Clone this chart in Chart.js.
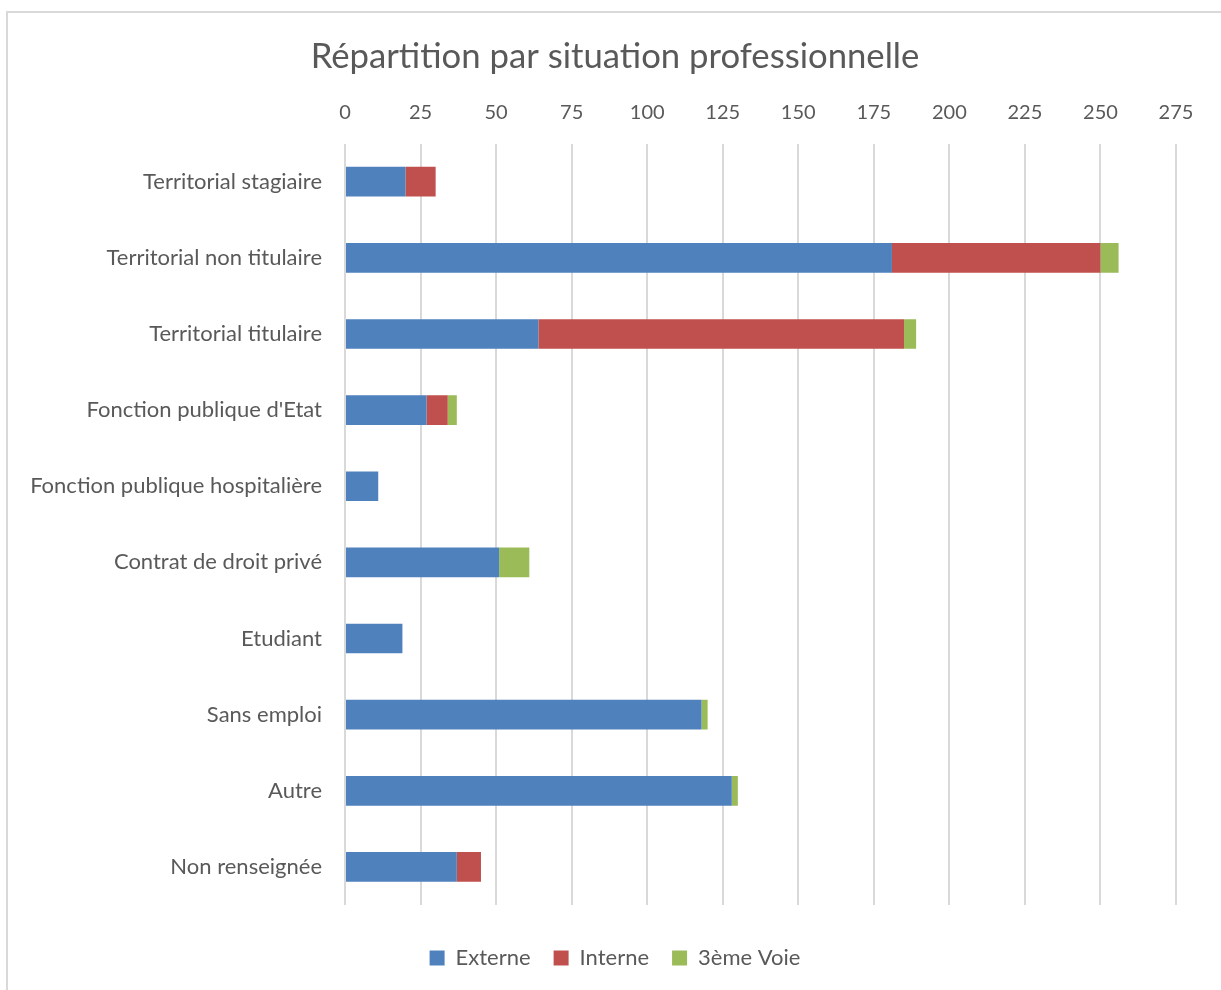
<!DOCTYPE html>
<html>
<head>
<meta charset="utf-8">
<script src="https://cdn.jsdelivr.net/npm/chart.js@4"></script>
<style>
  html, body { margin: 0; padding: 0; background: #ffffff; }
  #wrap { position: relative; width: 1221px; height: 990px; overflow: hidden; }
  #frame { position: absolute; left: 6px; top: 11px; width: 1300px; height: 1100px; border-top: 2px solid #d9d9d9; border-left: 2px solid #d9d9d9; box-sizing: border-box; pointer-events: none; }
  #c { position: absolute; left: 0; top: 0; }
</style>
</head>
<body>
<div id="wrap">
  <canvas id="c" width="1221" height="990"></canvas>
  <div id="frame"></div>
</div>
<script>
const categories = [
  "Territorial stagiaire",
  "Territorial non titulaire",
  "Territorial titulaire",
  "Fonction publique d'Etat",
  "Fonction publique hospitalière",
  "Contrat de droit privé",
  "Etudiant",
  "Sans emploi",
  "Autre",
  "Non renseignée"
];
const externe   = [20, 181, 64, 27, 11, 51, 19, 118, 128, 37];
const interne   = [10, 69, 121, 7, 0, 0, 0, 0, 0, 8];
const troisieme = [0, 6, 4, 3, 0, 10, 0, 2, 2, 0];
const seriesNames = ["Externe", "Interne", "3ème Voie"];
const xTicks = [0, 25, 50, 75, 100, 125, 150, 175, 200, 225, 250, 275];

const FONT = "Lato, 'Open Sans', 'DejaVu Sans', sans-serif";
const TXT = "#595959";
Chart.defaults.font.family = FONT;
Chart.defaults.color = TXT;

const ctx = document.getElementById('c').getContext('2d');
new Chart(ctx, {
  type: 'bar',
  data: {
    labels: categories,
    datasets: [
      { label: seriesNames[0], data: externe, backgroundColor: '#4F81BD' },
      { label: seriesNames[1], data: interne, backgroundColor: '#C0504D' },
      { label: seriesNames[2], data: troisieme, backgroundColor: '#9BBB59' }
    ]
  },
  options: {
    indexAxis: 'y',
    responsive: false,
    animation: false,
    devicePixelRatio: 1,
    layout: { padding: { left: 9, right: 0, top: 0, bottom: 11 } },
    datasets: { bar: { categoryPercentage: 1, barPercentage: 0.39, borderWidth: 0 } },
    scales: {
      x: {
        position: 'top',
        stacked: true,
        min: 0,
        max: 275,
        afterBuildTicks: (s) => { s.ticks = xTicks.map(v => ({ value: v })); },
        ticks: { font: { size: 20 }, color: TXT, padding: 19 },
        grid: { color: '#d9d9d9', lineWidth: 2, drawTicks: false },
        border: { display: false },
        afterFit: (s) => { s.height = 44; }
      },
      y: {
        stacked: true,
        ticks: { font: { size: 22 }, color: TXT, padding: 23 },
        grid: { display: false, drawTicks: false },
        border: { display: false },
        afterFit: (s) => { s.width = 336; }
      },
      yRight: {
        type: 'category',
        position: 'right',
        display: true,
        ticks: { display: false },
        grid: { display: false, drawTicks: false },
        border: { display: false },
        afterFit: (s) => { s.width = 45; }
      }
    },
    plugins: {
      title: {
        display: true,
        text: 'Répartition par situation professionnelle',
        font: { size: 34.7, weight: 'normal' },
        color: TXT,
        padding: { top: 36, bottom: 22 }
      },
      legend: {
        position: 'bottom',
        title: { display: true, text: ' ', font: { size: 10 }, padding: { top: 7, bottom: 0 } },
        labels: { font: { size: 22 }, color: TXT, boxWidth: 15, boxHeight: 15, padding: 23 }
      },
      tooltip: { enabled: false }
    }
  }
});
</script>
</body>
</html>
